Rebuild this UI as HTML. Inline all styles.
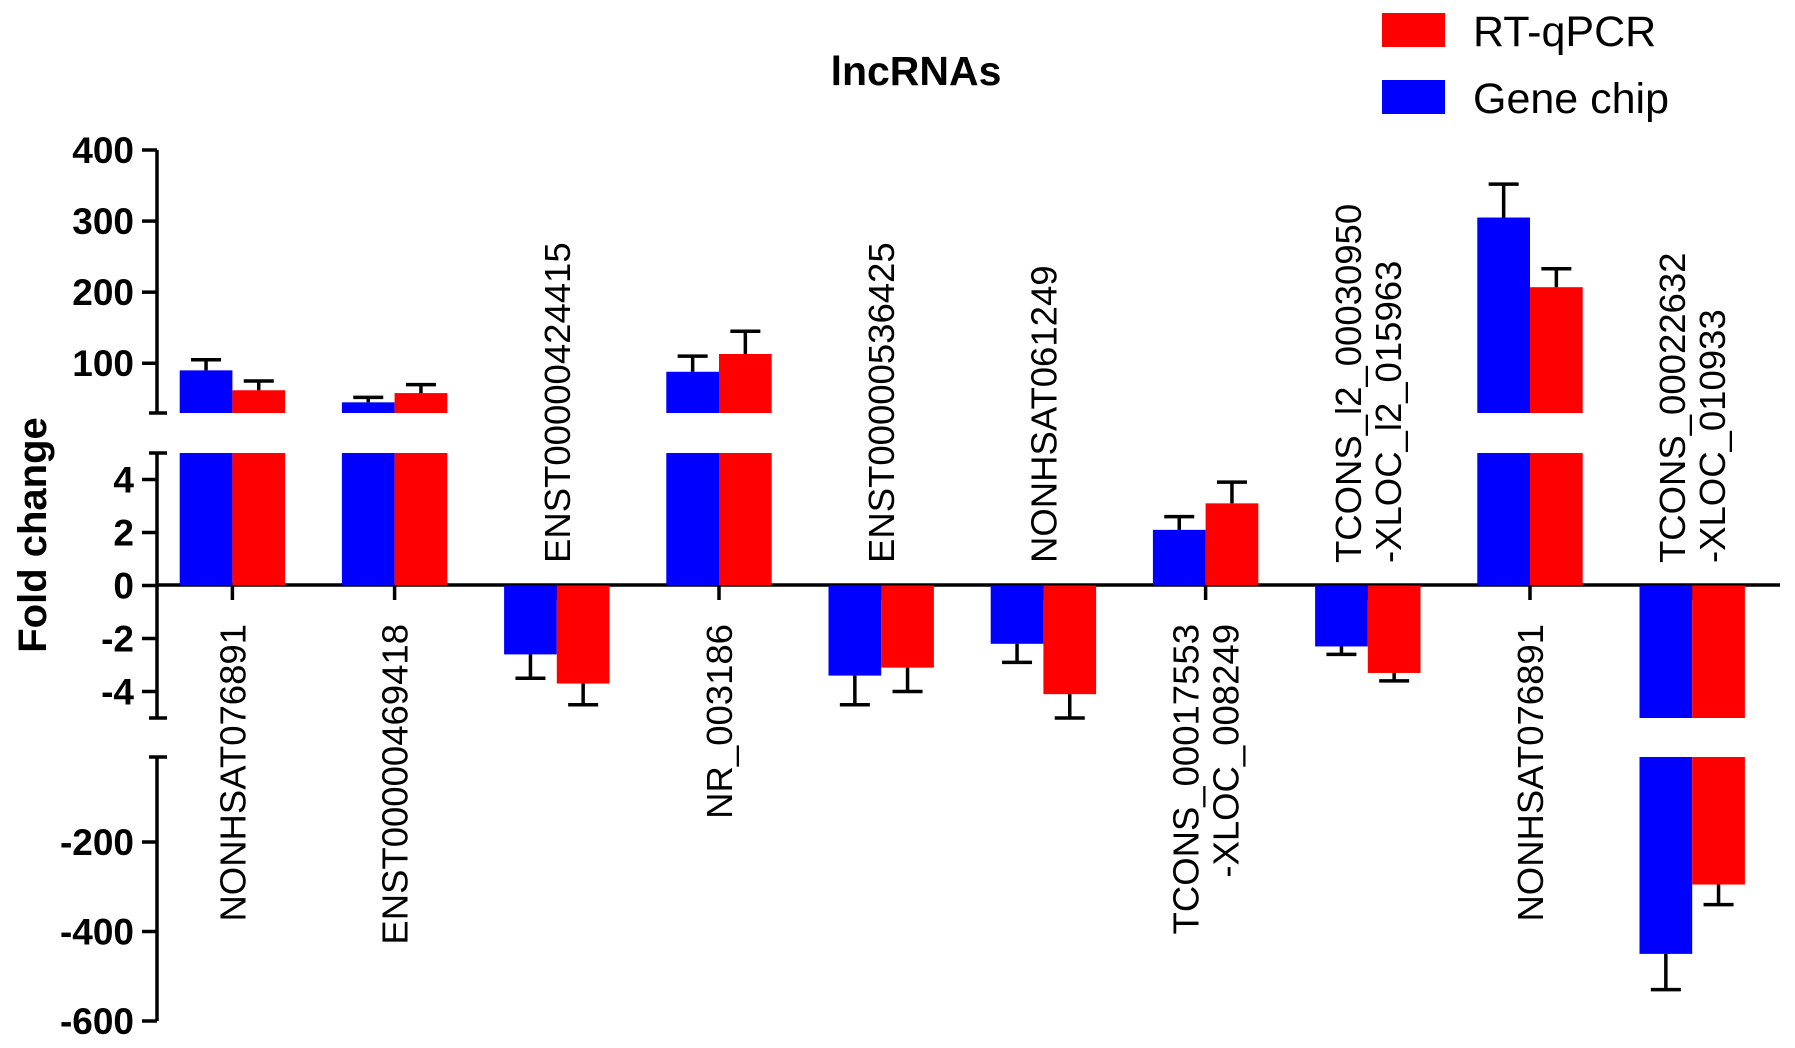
<!DOCTYPE html>
<html><head><meta charset="utf-8"><style>
html,body{margin:0;padding:0;background:#fff;}
svg{display:block;font-family:"Liberation Sans",Arial,sans-serif;}
</style></head><body>
<svg id="chart" width="1795" height="1048" viewBox="0 0 1795 1048" xmlns="http://www.w3.org/2000/svg">
<g id="axes"></g>
<g id="bars"></g>
<g id="labels"></g>
<text x="916" y="85" font-size="41" font-weight="bold" text-anchor="middle">lncRNAs</text>
<text transform="translate(46,535) rotate(-90)" font-size="40" font-weight="bold" text-anchor="middle">Fold change</text>
<g>
<rect x="1382" y="13" width="63" height="34" fill="#ff0000"/>
<text x="1473" y="46" font-size="43">RT-qPCR</text>
<rect x="1382" y="80" width="63" height="34" fill="#0000ff"/>
<text x="1473" y="113" font-size="43">Gene chip</text>
</g>
</svg>
<script>
const categories = [["NONHSAT076891"],["ENST00000469418"],["ENST00000424415"],["NR_003186"],["ENST00000536425"],["NONHSAT061249"],["TCONS_00017553","-XLOC_008249"],["TCONS_l2_00030950","-XLOC_l2_015963"],["NONHSAT076891"],["TCONS_00022632","-XLOC_010933"]];
const geneChip = [90, 45, -2.6, 88, -3.4, -2.2, 2.1, -2.3, 305, -450];
const geneChipErr = [15, 7, 0.9, 22, 1.1, 0.7, 0.5, 0.3, 47, 80];
const rtqpcr = [62, 58, -3.7, 113, -3.1, -4.1, 3.1, -3.3, 207, -295];
const rtqpcrErr = [13, 12, 0.8, 32, 0.9, 0.9, 0.8, 0.3, 26, 45];
const upperTicks = [100, 200, 300, 400];
const midTicks = [-4, -2, 0, 2, 4];
const lowerTicks = [-600, -400, -200];

const NS="http://www.w3.org/2000/svg";
function mk(tag, attrs, parent){const e=document.createElementNS(NS,tag);for(const k in attrs)e.setAttribute(k,attrs[k]);parent.appendChild(e);return e;}
const UP={v0:30,v1:400,y0:413,y1:150};
const MID={v0:-5,v1:5,y0:718,y1:453};
const LOW={v0:-600,v1:-10,y0:1021,y1:757};
function lin(s,v){return s.y0+(v-s.v0)/(s.v1-s.v0)*(s.y1-s.y0);}
function yVal(v){
  if(v>MID.v1) return lin(UP,Math.min(v,UP.v1));
  if(v<MID.v0) return lin(LOW,Math.max(v,LOW.v0));
  return lin(MID,v);
}
const X0=157, X1=1780, c0=232.4, step=162.2, bw=52.7;
function xc(i){return c0+i*step;}

const axes=document.getElementById('axes');
const bars=document.getElementById('bars');
const labels=document.getElementById('labels');

function drawBar(x,v,color,name){
  const segs=[];
  if(v>0){
    segs.push([lin(MID,0),lin(MID,Math.min(v,MID.v1))]);
    if(v>MID.v1) segs.push([UP.y0,lin(UP,v)]);
  } else {
    segs.push([lin(MID,0),lin(MID,Math.max(v,MID.v0))]);
    if(v<MID.v0) segs.push([LOW.y1,lin(LOW,v)]);
  }
  segs.forEach(s=>{
    const r=mk('rect',{x:x,y:Math.min(s[0],s[1]),width:bw,height:Math.abs(s[1]-s[0]),fill:color},bars);
    
    
  });
}
function drawErr(x,v,err,name){
  const ya=yVal(v), yb=yVal(v>0?v+err:v-err);
  const g=mk('g',{stroke:'#000','stroke-width':3.5},bars);
  
  
  mk('line',{x1:x,y1:ya,x2:x,y2:yb},g);
  mk('line',{x1:x-15,y1:yb,x2:x+15,y2:yb},g);
}
categories.forEach((c,i)=>{
  const cx=xc(i);
  drawBar(cx-bw,geneChip[i],'#0000ff','bar-gene-chip-'+(i+1));
  drawBar(cx,rtqpcr[i],'#ff0000','bar-rtqpcr-'+(i+1));
  drawErr(cx-bw/2,geneChip[i],geneChipErr[i],'error-gene-chip-'+(i+1));
  drawErr(cx+bw/2,rtqpcr[i],rtqpcrErr[i],'error-rtqpcr-'+(i+1));
  const t=mk('line',{x1:cx,y1:585,x2:cx,y2:600,stroke:'#000','stroke-width':3.5},axes);
  
  
  const pos = Math.max(geneChip[i],rtqpcr[i])>0;
  const n=c.length;
  c.forEach((line,j)=>{
    const lx = cx + (j-(n-1)/2)*40 + 13;
    const ly = pos ? 624 : 563;
    const tx=mk('text',{transform:`translate(${lx},${ly}) rotate(-90)`,'font-size':36.5,'text-anchor':pos?'end':'start'},labels);
    
    
    tx.textContent=line;
  });
});
const xa=mk('line',{x1:X0,y1:585,x2:X1,y2:585,stroke:'#000','stroke-width':3.5},axes);


[[UP,upperTicks],[MID,midTicks],[LOW,lowerTicks]].forEach(([s,ticks],k)=>{
  const l=mk('line',{x1:X0,y1:s.y0,x2:X0,y2:s.y1,stroke:'#000','stroke-width':3.5},axes);
  
  
  [s.y0,s.y1].forEach(y=>{
    if((k===0&&y===s.y1)||(k===2&&y===s.y0)) return;
    mk('line',{x1:X0-8,y1:y,x2:X0+10,y2:y,stroke:'#000','stroke-width':3.5},axes);
  });
  ticks.forEach(v=>{
    const y=lin(s,v);
    const tk=mk('line',{x1:X0-15,y1:y,x2:X0,y2:y,stroke:'#000','stroke-width':3.5},axes);
    
    
    const tl=mk('text',{x:134,y:y+13,'font-size':37,'font-weight':'bold','text-anchor':'end'},axes);
    
    
    tl.textContent=v;
  });
});
</script>
</body></html>
